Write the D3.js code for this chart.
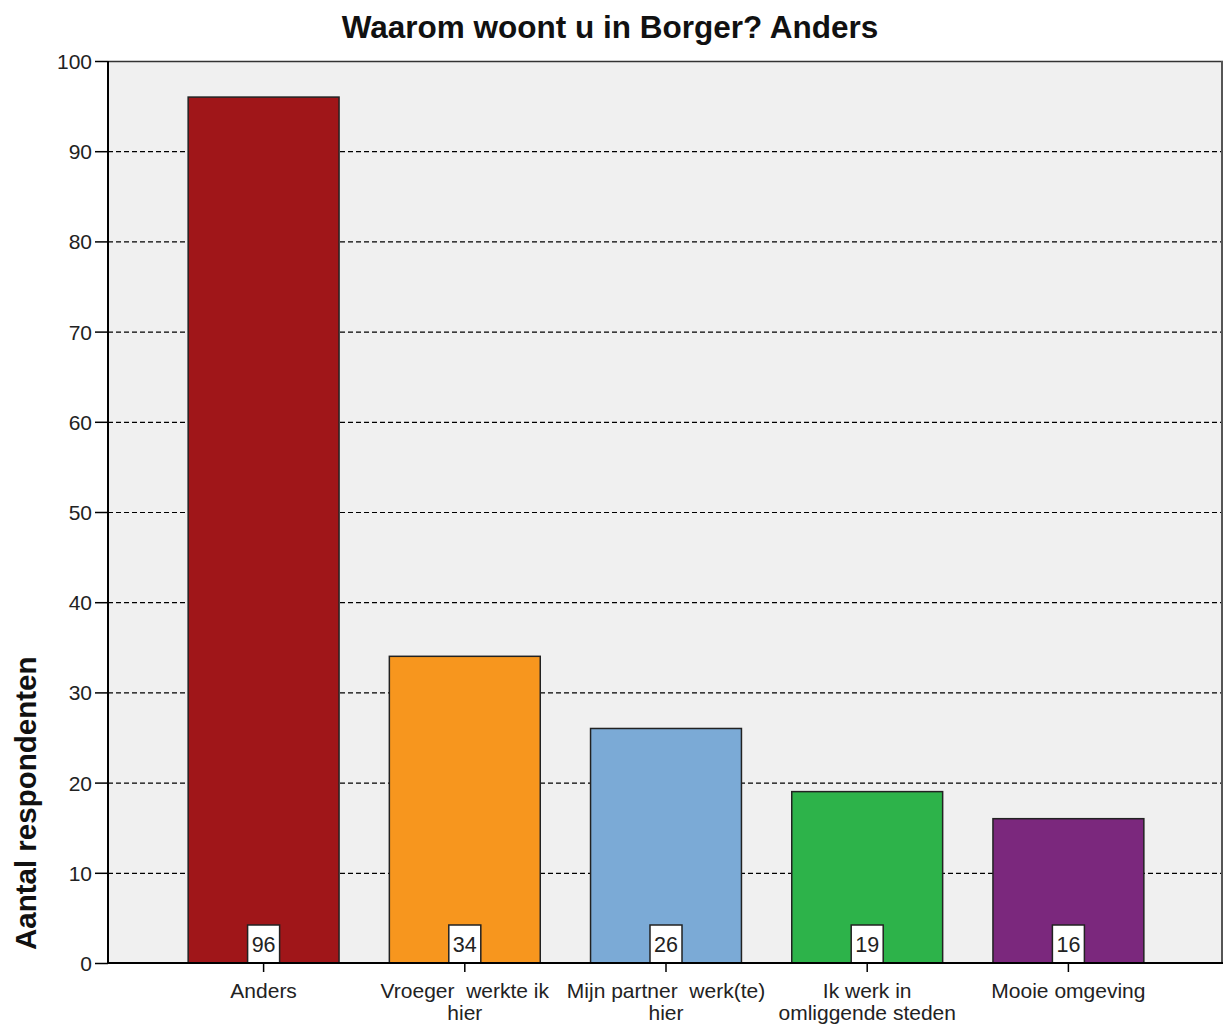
<!DOCTYPE html>
<html><head><meta charset="utf-8">
<script src="https://cdn.jsdelivr.net/npm/d3@7"></script>
<style>body{margin:0;background:#fff}svg{display:block;font-family:Arial,"Liberation Sans",sans-serif}</style>
</head><body><svg id="c" width="1225" height="1025"></svg>
<script>
const categories = ["Anders", "Vroeger werkte ik hier", "Mijn partner werk(te) hier", "Ik werk in omliggende steden", "Mooie omgeving"];
const labelLines = [["Anders"], ["Vroeger  werkte ik", "hier"], ["Mijn partner  werk(te)", "hier"], ["Ik werk in", "omliggende steden"], ["Mooie omgeving"]];
const values = [96, 34, 26, 19, 16];
const colors = ["#A01619", "#F7961E", "#7BAAD6", "#2DB34A", "#7B287D"];
const yTicks = [0, 10, 20, 30, 40, 50, 60, 70, 80, 90, 100];
const title = "Waarom woont u in Borger? Anders";
const yTitle = "Aantal respondenten";

const FF = "Arial, 'Liberation Sans', sans-serif";
const svg = d3.select("#c");
const L = 108, T = 61, R = 1223, B = 963;
const x = d3.scaleBand().domain(categories).range([163, 1169]).paddingInner(0.25).paddingOuter(0.125);
const y = d3.scaleLinear().domain([0, 100]).range([B, T]);

svg.append("rect").attr("x", L).attr("y", T).attr("width", R - L).attr("height", B - T).attr("fill", "#F0F0F0");

// grid
svg.append("g").selectAll("line").data(yTicks.filter(d => d > 0 && d < 100)).join("line")
  .attr("x1", L).attr("x2", R).attr("y1", d => y(d) + 0.5).attr("y2", d => y(d) + 0.5)
  .attr("stroke", "#000").attr("stroke-width", 1.2).attr("stroke-dasharray", "5,3");

// frame top & right
svg.append("line").attr("x1", L).attr("x2", R).attr("y1", T + 0.5).attr("y2", T + 0.5).attr("stroke", "#333").attr("stroke-width", 1.5);
svg.append("line").attr("x1", R - 1).attr("x2", R - 1).attr("y1", T).attr("y2", B).attr("stroke", "#555").attr("stroke-width", 2);

// bars
svg.append("g").selectAll("rect").data(values).join("rect")
  .attr("x", (d, i) => x(categories[i])).attr("width", x.bandwidth())
  .attr("y", d => y(d)).attr("height", d => B - y(d))
  .attr("fill", (d, i) => colors[i]).attr("stroke", "#222").attr("stroke-width", 1.5);

// value boxes
const vb = svg.append("g").selectAll("g").data(values).join("g")
  .attr("transform", (d, i) => `translate(${x(categories[i]) + x.bandwidth() / 2},0)`);
vb.append("rect").attr("x", -16).attr("y", B - 38).attr("width", 32).attr("height", 38)
  .attr("fill", "#fff").attr("stroke", "#222").attr("stroke-width", 1.5);
vb.append("text").attr("y", B - 11).attr("text-anchor", "middle").attr("font-size", 21.5).attr("fill", "#222").text(d => d);

// y axis
const ya = svg.append("g").attr("transform", `translate(${L},0)`)
  .call(d3.axisLeft(y).tickValues(yTicks).tickSize(13).tickPadding(3).tickFormat(d3.format("d")));
ya.select(".domain").attr("stroke", "#000").attr("stroke-width", 2).attr("d", `M0,${T}V${B}`);
ya.selectAll(".tick line").attr("stroke", "#000").attr("stroke-width", 1.5);
ya.selectAll(".tick text").attr("font-size", 21).attr("fill", "#222").attr("font-family", FF).attr("dy", "0.36em");

// x axis
const xa = svg.append("g").attr("transform", `translate(0,${B})`)
  .call(d3.axisBottom(x).tickSize(9).tickFormat(""));
xa.select(".domain").attr("stroke", "#000").attr("stroke-width", 2).attr("d", `M${L},0H${R}`);
xa.selectAll(".tick line").attr("stroke", "#000").attr("stroke-width", 1.5);
xa.selectAll(".tick").each(function (d, i) {
  const t = d3.select(this).append("text").attr("text-anchor", "middle").attr("font-size", 21).attr("fill", "#222")
    .attr("font-family", FF).attr("style", "white-space:pre");
  labelLines[i].forEach((ln, j) => t.append("tspan").attr("x", 0).attr("y", 35 + j * 22).text(ln));
});

// titles
svg.append("text").attr("x", 610).attr("y", 38).attr("text-anchor", "middle").attr("font-size", 31.5)
  .attr("font-weight", "bold").attr("fill", "#111").text(title);
svg.append("text").attr("transform", "translate(36,950) rotate(-90)").attr("text-anchor", "start")
  .attr("font-size", 29.5).attr("font-weight", "bold").attr("fill", "#111").text(yTitle);
</script></body></html>
